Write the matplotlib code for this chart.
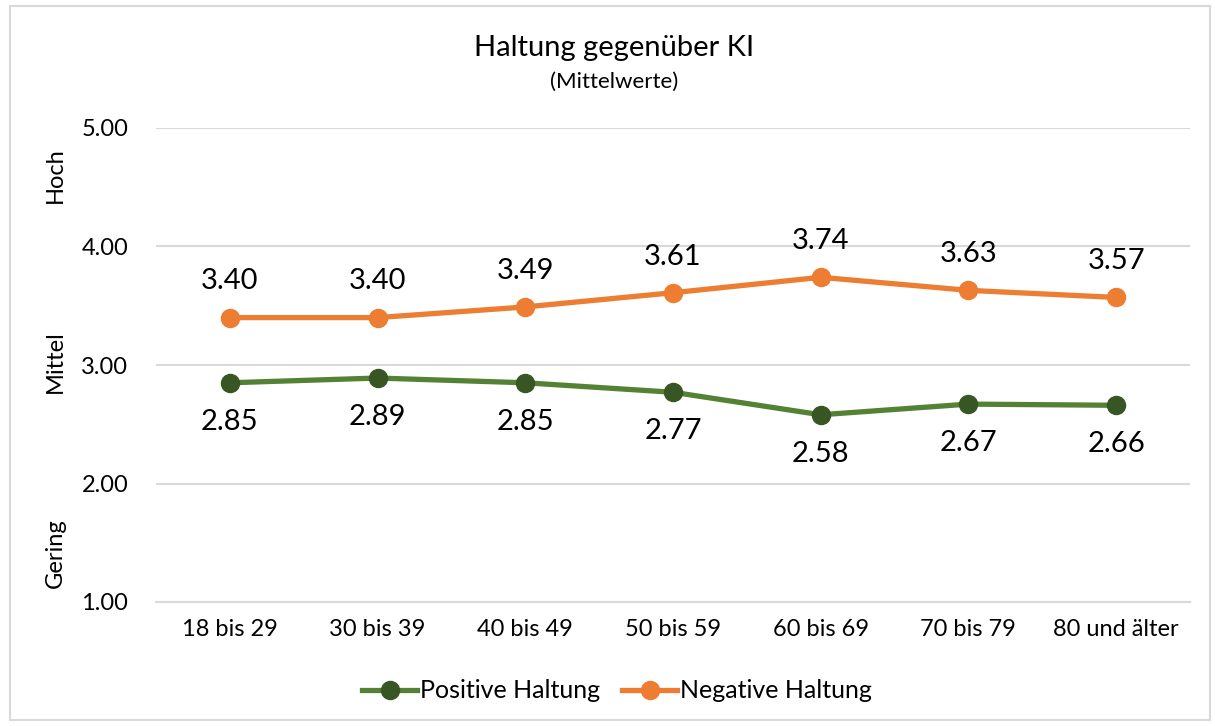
import matplotlib
matplotlib.use("Agg")
import matplotlib.pyplot as plt
from matplotlib.patches import Rectangle

categories = ["18 bis 29", "30 bis 39", "40 bis 49", "50 bis 59", "60 bis 69", "70 bis 79", "80 und älter"]
positive = [2.85, 2.89, 2.85, 2.77, 2.58, 2.67, 2.66]
negative = [3.40, 3.40, 3.49, 3.61, 3.74, 3.63, 3.57]
yticks = [1.0, 2.0, 3.0, 4.0, 5.0]

plt.rcParams['font.family'] = ['Lato', 'DejaVu Sans']

W, H = 1215, 726
fig = plt.figure(figsize=(W / 100, H / 100), dpi=100)
ax = fig.add_axes([156 / W, 1 - 602 / H, (1190 - 156) / W, (602 - 128) / H])

x = list(range(len(categories)))
green_line, green_marker = "#548235", "#375623"
orange = "#ED7D31"

ax.plot(x, positive, color=green_line, lw=3.8, marker="o", ms=13,
        mfc=green_marker, mec=green_marker, label="Positive Haltung", zorder=3)
ax.plot(x, negative, color=orange, lw=3.8, marker="o", ms=13,
        mfc=orange, mec=orange, label="Negative Haltung", zorder=3)

for xi, v in zip(x, positive):
    ax.annotate(f"{v:.2f}", (xi, v), xytext=(0, -28), textcoords="offset points",
                ha="center", va="center", fontsize=21, color="#000000")
for xi, v in zip(x, negative):
    ax.annotate(f"{v:.2f}", (xi, v), xytext=(0, 26), textcoords="offset points",
                ha="center", va="center", fontsize=21, color="#000000")

ax.set_xlim(-0.5, len(categories) - 0.5)
ax.set_ylim(1, 5)
ax.set_yticks(yticks)
ax.set_yticklabels([f"{t:.2f}" for t in yticks], fontsize=17)
ax.set_xticks(x)
ax.set_xticklabels(categories, fontsize=17)
ax.tick_params(length=0, pad=12)
ax.tick_params(axis="y", pad=20)
ax.grid(axis="y", color="#D9D9D9", lw=1.5)
ax.set_axisbelow(True)
for s in ["top", "right", "left"]:
    ax.spines[s].set_visible(False)
ax.spines["bottom"].set_color("#D9D9D9")
ax.spines["bottom"].set_linewidth(1.5)

fig.text(614 / W, 1 - 48 / H, "Haltung gegenüber KI", ha="center", va="center", fontsize=21)
fig.text(614 / W, 1 - 82 / H, "(Mittelwerte)", ha="center", va="center", fontsize=16)

for label, yp in [("Hoch", 175), ("Mittel", 362), ("Gering", 553)]:
    fig.text(55 / W, 1 - yp / H, label, ha="center", va="center", rotation=90, fontsize=17)

fig.legend(loc="center", bbox_to_anchor=(617 / W, 1 - 691 / H), ncol=2, frameon=False,
           fontsize=18, handlelength=2.2, handletextpad=0.1, columnspacing=0.9)

fig.add_artist(Rectangle((10 / W, 1 - 720 / H), 1200 / W, 714 / H, transform=fig.transFigure,
                         fill=False, edgecolor="#D9D9D9", lw=1.5))

fig.savefig("out.png", dpi=100)
